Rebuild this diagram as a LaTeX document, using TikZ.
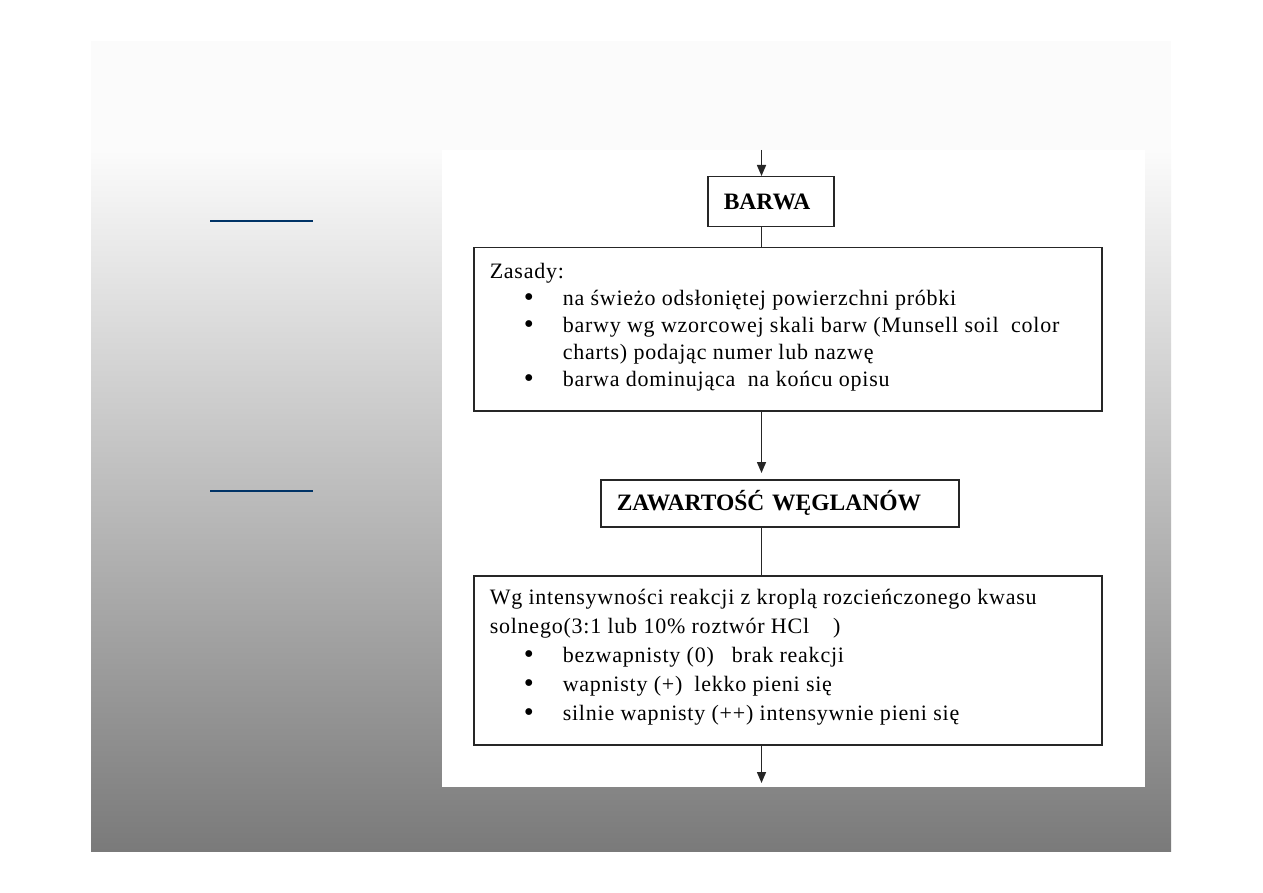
\documentclass[tikz,border=0pt]{standalone}
\usepackage{fontspec}
\usepackage{graphicx}
\setmainfont{Liberation Serif}
\usetikzlibrary{arrows.meta}

\definecolor{menublue}{RGB}{0,51,102}
\definecolor{bgtop}{RGB}{251,251,251}
\definecolor{bgbot}{RGB}{122,122,122}

\newcommand\titlefont{\fontsize{23.5}{27}\selectfont\bfseries}
\newcommand\rulesfont{\fontsize{22}{27}\selectfont\addfontfeatures{LetterSpace=3.5}}
\newcommand\testfont{\fontsize{22}{29}\selectfont\addfontfeatures{LetterSpace=3.5}}
\newcommand\punkt[1]{\hspace*{34pt}\makebox[39pt][l]{\raisebox{-1.5pt}{\scalebox{1.3}{\textbullet}}}#1}

\begin{document}
\begin{tikzpicture}[
    x=1pt,
    y=-1pt,
    title box/.style={
        draw=black!85,
        line width=1.5pt,
        anchor=north west,
        inner xsep=16pt,
        inner ysep=0pt,
        align=left,
        font=\titlefont
    },
    rules box/.style={
        draw=black!85,
        line width=1.5pt,
        anchor=north west,
        inner xsep=16pt,
        inner ysep=15pt
    },
    flow/.style={
        -{Triangle[width=9pt,length=11pt]},
        line width=1.5pt,
        black!85
    },
    link/.style={
        -,
        line width=1.5pt,
        black!85
    },
    menu line/.style={
        menublue,
        line width=2.5pt
    }
]

\useasboundingbox (0,0) rectangle (1263,893);
\fill[white] (0,0) rectangle (1263,893);
\fill[bgtop] (91,41) rectangle (1171,150);
\shade[top color=bgtop, bottom color=bgbot] (91,150) rectangle (1171,851);
\fill[white] (442,150) rectangle (1145,787);

\draw[menu line] (210,221) -- (313,221);
\draw[menu line] (210,491) -- (313,491);

\coordinate (entry) at (761.5,150);
\coordinate (exit) at (761.5,787);

\node[title box, text width=94pt, minimum height=50pt] (barwa) at (707,176) {BARWA};

\node[rules box] (zasady) at (473,247) {%
    \parbox[t][133pt][t]{596pt}{\rulesfont\raggedright
    Zasady:\\
    \punkt{na świeżo odsłoniętej powierzchni próbki}\\
    \punkt{barwy wg wzorcowej skali barw (Munsell soil\ \ color}\\
    \hspace*{73pt}charts) podając numer lub nazwę\\
    \punkt{barwa dominująca\ \ na końcu opisu}}
};

\node[title box, text width=326pt, minimum height=47pt] (weglany) at (600,479) {ZAWARTOŚĆ WĘGLANÓW};

\node[rules box, inner ysep=13pt] (reakcja) at (473,575) {%
    \parbox[t][143pt][t]{596pt}{\testfont\raggedright
    Wg intensywności reakcji z kroplą rozcieńczonego kwasu\\
    solnego(3:1 lub 10\% roztwór HCl\hspace*{24pt})\\
    \punkt{bezwapnisty (0)\hspace*{18pt}brak reakcji}\\
    \punkt{wapnisty (+)\hspace*{12pt}lekko pieni się}\\
    \punkt{silnie wapnisty (++) intensywnie pieni się}}
};

\draw[flow] (entry) -- (barwa.north -| entry);
\draw[link] (barwa.south -| entry) -- (zasady.north -| entry);
\draw[flow, shorten >=6pt] (zasady.south -| entry) -- (weglany.north -| entry);
\draw[link] (weglany.south -| entry) -- (reakcja.north -| entry);
\draw[flow, shorten >=4pt] (reakcja.south -| entry) -- (exit);

\end{tikzpicture}
\end{document}
